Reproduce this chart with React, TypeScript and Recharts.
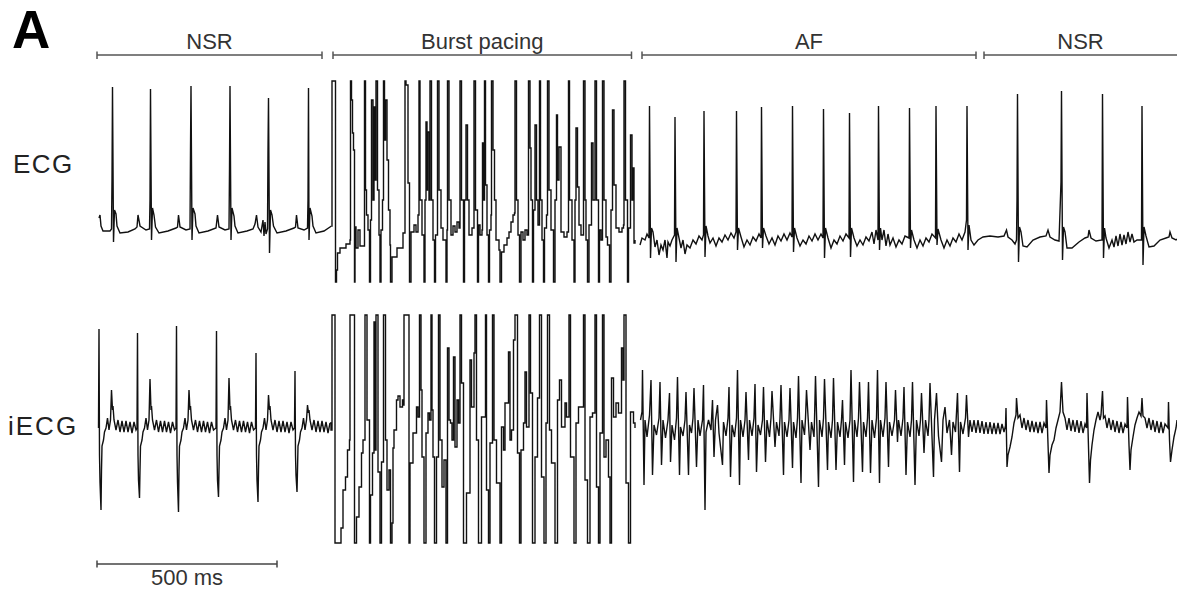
import { LineChart, Line, XAxis, YAxis, ReferenceLine } from 'recharts'

// time is in samples at 720 Hz, the window is 3 s long
const FS = 720
const WINDOW = 2160

type Pt = [number, number] // [sample, mV]

// surface ECG
const ecgNsr1: Pt[] = [
  [4,0.10],[6,0.13],[8,0.02],[12,-0.03],[26,-0.03],[29,-0.01],[30,0.48],[31,1.41],[33,-0.14],[35,0.18],[38,0.14],[40,0.02],[46,-0.05],[62,-0.04],[76,-0.01],[80,0.01],[82,0.13],[86,0.02],[98,-0.02],
  [105,-0.01],[106,0.28],[107,1.39],[109,-0.12],[111,0.20],[114,0.13],[117,0.01],[124,-0.05],[142,-0.03],[158,0.00],[161,0.01],[163,0.13],[166,0.01],[178,-0.02],
  [186,-0.01],[187,0.78],[188,1.42],[190,-0.12],[192,0.20],[196,0.14],[198,0.02],[204,-0.05],[222,-0.03],[238,0.00],[241,0.13],[244,0.01],[256,-0.02],
  [264,-0.01],[265,0.58],[266,1.42],[268,-0.12],[270,0.20],[274,0.12],[276,0.02],[282,-0.05],[300,-0.03],[312,-0.01],[316,0.04],[319,0.13],[322,0.01],[328,-0.04],[332,0.08],[334,-0.08],[336,0.06],[338,-0.06],
  [341,-0.01],[342,0.78],[343,1.30],[345,-0.25],[347,0.18],[350,0.13],[353,0.02],[360,-0.05],[378,-0.03],[394,0.00],[397,0.01],[399,0.13],[402,0.00],[414,-0.02],
  [421,0.00],[422,0.28],[423,1.40],[424,-0.12],[426,0.20],[430,0.12],[432,0.02],[438,-0.05],[454,-0.03],[469,0.02],
]

const ecgBurst: Pt[] = [
  [470,1.47],[475,1.47],[477,-0.54],[479,-0.42],[481,-0.25],[486,-0.20],[498,-0.16],[506,-0.12],[507,1.47],[509,1.28],[511,0.95],[513,0.78],[515,-0.54],[516,0.01],[518,-0.20],[522,-0.02],[526,-0.18],[533,-0.18],
  [535,1.47],[537,0.38],[539,0.13],[542,-0.02],[545,-0.54],[547,0.08],[549,1.28],[552,0.28],[554,1.21],[556,0.48],[558,1.47],[561,0.38],[564,-0.07],[566,-0.54],[568,-0.02],[571,0.28],
  [573,1.47],[575,0.88],[577,1.28],[580,0.68],[583,0.18],[586,-0.17],[587,-0.54],[590,-0.29],[600,-0.20],[612,-0.05],[616,1.47],[618,1.43],[622,0.45],[625,-0.54],[628,-0.04],[634,0.03],[638,-0.04],[642,0.13],
  [644,1.47],[646,0.28],[650,-0.07],[654,-0.54],[656,0.28],[658,1.06],[660,0.38],[661,0.96],[664,0.28],[666,1.47],[669,0.28],[672,-0.12],[675,-0.54],[677,-0.07],[681,1.47],[684,0.38],[688,0.00],[692,-0.12],[698,-0.54],
  [700,-0.02],[701,1.47],[704,0.28],[708,-0.07],[712,0.02],[716,-0.04],[720,0.06],[724,0.00],[726,1.47],[729,0.28],[733,-0.54],[735,0.28],[738,1.03],[741,0.28],[744,-0.07],[750,0.00],[754,1.47],[757,0.18],[761,-0.54],
  [763,0.03],[766,-0.07],[770,-0.02],[771,0.85],[773,0.28],[775,1.47],[777,0.43],[780,-0.07],[783,-0.54],[785,-0.02],[788,0.13],[789,1.47],[792,0.78],[795,0.28],[798,-0.12],[804,-0.22],[806,-0.54],
  [809,-0.24],[814,-0.17],[820,-0.10],[824,-0.04],[828,0.06],[832,0.13],[835,0.15],[836,1.47],[839,0.28],[842,-0.07],[845,-0.54],[848,-0.04],[852,-0.12],[856,-0.02],[860,-0.07],
  [863,1.47],[866,0.80],[868,0.28],[871,-0.54],[873,0.18],[876,1.03],[879,0.28],[882,0.03],[885,1.47],[887,0.28],[890,-0.12],[893,-0.54],[895,0.00],[899,0.13],[901,1.47],[904,0.38],[908,-0.02],[913,-0.54],
  [916,0.28],[919,1.13],[921,0.48],[924,0.81],[928,-0.04],[934,-0.09],[940,-0.04],[943,1.47],[945,0.28],[950,-0.12],[954,-0.54],[956,0.28],[958,1.00],[961,0.41],[964,0.03],[968,-0.07],
  [973,1.47],[976,0.28],[978,-0.12],[981,-0.54],[984,0.03],[989,0.85],[992,0.28],[996,1.47],[999,0.28],[1003,-0.54],[1005,-0.02],[1008,-0.12],[1011,1.47],[1014,0.28],[1018,-0.09],[1021,-0.17],[1025,-0.54],
  [1028,0.18],[1031,1.18],[1034,0.43],[1038,0.00],[1044,-0.04],[1050,0.00],[1053,0.03],[1054,1.47],[1057,0.28],[1061,-0.54],[1063,0.00],[1067,0.93],[1070,0.28],[1072,0.60],[1074,-0.15],[1076,-0.12],
]

const ecgAf: Pt[] = [
  [1086,-0.17],[1090,-0.10],[1096,-0.12],[1100,-0.06],[1104,-0.10],[1105,1.22],[1107,-0.30],[1109,0.00],[1112,-0.04],[1116,-0.19],[1120,-0.12],[1124,-0.27],[1128,-0.17],[1132,-0.22],[1136,-0.12],[1140,-0.30],[1142,-0.14],[1146,-0.18],[1150,-0.12],
  [1155,-0.07],[1156,1.11],[1158,-0.34],[1160,0.00],[1164,-0.10],[1168,-0.20],[1172,-0.12],[1176,-0.26],[1180,-0.17],[1186,-0.20],[1192,-0.12],[1198,-0.16],[1204,-0.08],[1210,-0.12],
  [1213,-0.07],[1214,1.17],[1216,-0.29],[1218,0.02],[1222,-0.08],[1226,-0.15],[1232,-0.10],[1238,-0.18],[1244,-0.10],[1250,-0.14],[1256,-0.07],[1262,-0.12],[1268,-0.05],[1274,-0.10],
  [1278,-0.04],[1279,1.17],[1281,-0.22],[1283,0.00],[1288,-0.09],[1294,-0.19],[1300,-0.12],[1306,-0.17],[1312,-0.09],[1318,-0.13],[1324,-0.06],
  [1328,-0.10],[1329,1.21],[1331,-0.20],[1333,0.00],[1338,-0.08],[1344,-0.16],[1350,-0.10],[1356,-0.17],[1362,-0.08],[1368,-0.13],[1374,-0.06],[1380,-0.12],[1386,-0.05],
  [1390,-0.09],[1391,1.22],[1393,-0.24],[1395,0.00],[1400,-0.10],[1406,-0.18],[1412,-0.12],[1418,-0.16],[1424,-0.08],[1430,-0.13],[1436,-0.06],[1442,-0.12],[1448,-0.06],
  [1452,-0.10],[1453,1.19],[1455,-0.30],[1457,0.00],[1462,-0.10],[1468,-0.20],[1474,-0.12],[1480,-0.16],[1486,-0.08],[1492,-0.13],[1498,-0.06],
  [1504,-0.10],[1505,1.15],[1507,-0.29],[1509,0.00],[1514,-0.10],[1520,-0.18],[1526,-0.12],[1532,-0.17],[1538,-0.09],[1544,-0.13],[1550,-0.04],[1554,-0.16],[1558,-0.02],
  [1562,-0.12],[1563,1.22],[1565,-0.22],[1567,0.00],[1570,-0.12],[1574,-0.02],[1578,-0.18],[1582,-0.06],[1586,-0.17],[1592,-0.10],[1598,-0.19],[1604,-0.12],[1610,-0.16],[1616,-0.08],
  [1624,-0.10],[1625,1.20],[1627,-0.20],[1629,-0.02],[1634,-0.12],[1640,-0.20],[1646,-0.12],[1652,-0.18],[1658,-0.10],[1664,-0.14],[1670,-0.06],
  [1677,-0.10],[1678,1.22],[1680,-0.17],[1682,-0.01],[1688,-0.12],[1694,-0.20],[1700,-0.12],[1706,-0.18],[1712,-0.10],[1718,-0.14],[1724,-0.06],[1730,-0.12],[1736,-0.04],
  [1739,0.08],[1740,1.22],[1742,-0.22],[1744,0.03],[1748,-0.12],[1754,-0.17],[1762,-0.12],
]

const ecgNsr2: Pt[] = [
  [1772,-0.09],[1786,-0.08],[1802,-0.09],[1814,-0.08],[1819,-0.02],[1822,-0.09],[1830,-0.12],[1836,-0.16],[1839,-0.12],[1840,0.28],[1841,1.34],[1843,-0.34],[1845,0.01],[1848,-0.04],[1852,-0.18],[1860,-0.19],[1872,-0.12],
  [1886,-0.09],[1898,-0.08],[1902,-0.02],[1906,-0.09],[1916,-0.12],[1924,-0.13],[1928,0.46],[1929,1.37],[1931,-0.32],[1933,0.01],[1936,-0.04],[1940,-0.20],[1950,-0.20],[1964,-0.14],
  [1976,-0.10],[1982,-0.09],[1984,-0.02],[1988,-0.10],[1998,-0.13],[2010,-0.12],[2011,1.34],[2013,-0.30],[2015,0.00],[2018,-0.10],[2024,-0.20],[2030,-0.12],[2034,-0.19],[2038,-0.08],[2042,-0.18],
  [2046,-0.06],[2050,-0.17],[2054,-0.07],[2058,-0.16],[2062,-0.04],[2066,-0.14],[2070,-0.06],[2074,-0.14],[2080,-0.12],[2089,-0.12],[2090,1.22],[2092,-0.37],[2094,0.01],[2098,-0.08],
  [2104,-0.19],[2114,-0.18],[2126,-0.12],[2138,-0.10],[2144,-0.09],[2146,-0.04],[2150,-0.10],[2158,-0.12],[2160,-0.11],
]

// intracardiac ECG
const iecgNsr1: Pt[] = [
  [3,-0.03],[4,0.96],[5,-0.30],[6,-0.57],[8,-0.85],[9,-0.45],[10,-0.21],[13,-0.15],[15,-0.07],[18,-0.03],[21,0.07],[24,-0.05],[27,0.05],[29,0.35],[31,0.15],[32,0.19],[34,0.05],[38,-0.05],[42,0.05],[46,-0.07],[50,0.04],[54,-0.07],[58,0.04],[62,-0.07],[66,0.03],[70,-0.08],[74,0.03],[78,-0.05],[80,-0.03],
  [81,0.92],[82,-0.30],[83,-0.55],[85,-0.73],[86,-0.45],[87,-0.21],[90,-0.15],[92,-0.07],[95,-0.03],[98,0.07],[101,-0.05],[104,0.05],[106,0.46],[108,0.15],[109,0.19],[111,0.05],[115,-0.05],[119,0.05],[123,-0.07],[127,0.04],[131,-0.07],[135,0.04],[139,-0.07],[143,0.03],[147,-0.08],[151,0.03],[155,-0.05],[158,-0.03],
  [159,0.99],[160,-0.30],[161,-0.57],[163,-0.87],[164,-0.45],[165,-0.21],[168,-0.15],[170,-0.07],[173,-0.03],[176,0.07],[179,-0.05],[182,0.05],[184,0.35],[186,0.15],[187,0.19],[189,0.05],[193,-0.05],[197,0.05],[201,-0.07],[205,0.04],[209,-0.07],[213,0.04],[217,-0.07],[221,0.03],[225,-0.08],[229,0.03],[233,-0.05],[238,-0.03],
  [239,0.94],[240,-0.30],[241,-0.55],[243,-0.72],[244,-0.45],[245,-0.21],[248,-0.15],[250,-0.07],[253,-0.03],[256,0.07],[259,-0.05],[262,0.05],[264,0.47],[266,0.15],[267,0.19],[269,0.05],[273,-0.05],[277,0.05],[281,-0.07],[285,0.04],[289,-0.07],[293,0.04],[297,-0.07],[301,0.03],[305,-0.08],[309,0.03],[313,-0.05],[317,-0.03],
  [318,0.72],[319,-0.30],[320,-0.55],[322,-0.77],[323,-0.45],[324,-0.21],[327,-0.15],[329,-0.07],[332,-0.03],[335,0.07],[338,-0.05],[341,0.05],[343,0.30],[345,0.15],[346,0.19],[348,0.05],[352,-0.05],[356,0.05],[360,-0.07],[364,0.04],[368,-0.07],[372,0.04],[376,-0.07],[380,0.03],[384,-0.08],[388,0.03],[392,-0.05],[395,-0.03],
  [396,0.54],[397,-0.30],[398,-0.50],[400,-0.67],[401,-0.45],[402,-0.21],[405,-0.15],[407,-0.07],[410,-0.03],[413,0.07],[416,-0.05],[419,0.05],[421,0.20],[423,0.12],[424,0.15],[426,0.05],[430,-0.05],[434,0.05],[438,-0.07],[442,0.04],[446,-0.07],[450,0.04],[454,-0.07],[458,0.03],[462,-0.08],[466,0.02],
]

const iecgBurst: Pt[] = [
  [468,-0.05],[470,1.10],[475,1.10],[476,-1.18],[478,-1.18],[487,-1.18],[488,-1.03],[492,-0.65],[497,-0.52],[501,-0.25],[505,-0.15],[506,1.10],[510,1.10],[515,-1.18],[519,-0.92],[524,-0.62],[529,-0.28],[532,-0.15],
  [536,1.10],[540,0.05],[545,-1.18],[547,-0.70],[551,-0.28],[554,1.03],[556,-0.25],[558,1.10],[562,-0.47],[566,-1.18],[569,-0.37],[573,1.10],[575,1.10],[577,-0.15],[580,-0.65],[584,-0.45],[587,-1.18],
  [590,-0.98],[592,-0.23],[594,-0.05],[599,0.25],[602,0.29],[606,0.18],[611,0.25],[613,0.20],[614,1.10],[620,1.10],[624,-1.18],[626,-0.38],[632,-0.08],[639,0.18],[642,0.08],[645,1.10],[648,0.35],[650,-0.32],[654,-1.18],
  [658,-0.08],[662,0.12],[665,0.05],[668,1.10],[670,0.15],[672,-0.32],[675,-1.18],[679,-0.32],[683,1.10],[686,-0.15],[690,-0.62],[694,-0.35],[698,-1.18],[701,0.77],[704,0.05],[707,0.02],[710,-0.15],[713,0.68],[716,-0.22],[720,0.25],[723,0.02],
  [726,1.10],[729,0.42],[733,-1.18],[739,-0.68],[746,0.65],[749,0.18],[754,0.72],[756,1.10],[759,-0.15],[763,-1.18],[769,0.08],[773,0.08],[777,1.10],[779,-0.65],[783,-1.18],[786,-0.18],[791,1.10],[794,-0.15],[799,-0.58],[806,-1.18],
  [809,-0.02],[813,-0.25],[816,0.22],[823,0.73],[826,-0.15],[829,-0.05],[833,0.85],[836,1.10],[841,-0.28],[845,-1.18],[848,-0.25],[853,0.02],[856,0.53],[859,-0.02],[864,1.10],[867,0.32],[871,-1.18],[876,-0.32],[881,0.27],
  [885,1.10],[889,-0.52],[894,-1.18],[898,0.02],[901,1.10],[905,-0.05],[909,-0.38],[916,-1.18],[921,0.25],[925,0.45],[929,-0.02],[936,0.22],[939,0.08],[944,1.10],[947,-0.32],[954,-1.18],[958,0.02],[963,0.18],
  [973,1.10],[976,-0.55],[981,-1.18],[986,0.08],[991,0.12],[996,1.10],[999,-0.62],[1003,-1.18],[1006,-0.08],[1011,1.10],[1014,-0.32],[1018,-0.15],[1023,-0.52],[1026,-1.18],[1029,0.47],[1033,0.08],[1038,0.22],[1043,0.12],
  [1049,0.77],[1052,0.45],[1054,1.10],[1058,-0.58],[1063,-1.18],[1067,0.13],[1073,0.02],[1076,-0.03],
]

const iecgAf: Pt[] = [
  [1087,0.05],[1090,0.13],[1091,0.55],[1094,-0.60],[1096,0.05],[1100,-0.12],[1105,0.10],[1108,0.45],[1111,-0.50],[1114,0.00],[1119,-0.10],[1124,0.07],[1126,0.43],[1129,-0.40],[1132,0.05],[1137,-0.13],[1142,0.05],[1145,0.32],[1147,-0.37],
  [1150,0.00],[1155,-0.15],[1159,0.07],[1161,0.48],[1165,-0.50],[1167,-0.02],[1172,-0.11],[1176,0.05],[1178,0.33],[1183,-0.50],[1185,0.00],[1189,-0.08],[1192,0.07],[1194,0.37],[1199,-0.42],[1202,0.05],[1206,-0.11],
  [1211,0.05],[1213,0.40],[1216,-0.85],[1218,-0.07],[1223,0.05],[1228,-0.05],[1231,0.25],[1234,-0.32],[1237,0.05],[1241,0.20],[1244,-0.08],[1251,-0.40],[1253,0.03],[1258,-0.11],[1262,0.07],[1264,0.38],[1267,-0.52],
  [1270,0.00],[1275,-0.12],[1279,0.07],[1281,0.55],[1285,-0.60],[1287,0.05],[1292,-0.12],[1296,0.05],[1298,0.33],[1303,-0.35],[1305,0.05],[1310,-0.11],[1314,0.07],[1316,0.41],[1319,-0.47],[1322,0.00],[1327,-0.10],
  [1331,0.05],[1333,0.38],[1337,-0.37],[1340,0.05],[1345,-0.12],[1348,0.07],[1350,0.34],[1356,-0.22],[1359,0.03],[1364,-0.11],[1366,0.07],[1368,0.40],[1373,-0.50],[1375,0.03],[1380,-0.12],[1384,0.05],[1386,0.37],[1391,-0.43],
  [1393,0.03],[1398,-0.13],[1401,0.07],[1403,0.49],[1408,-0.58],[1410,0.05],[1415,-0.10],[1417,0.07],[1419,0.35],[1426,-0.25],[1429,0.03],[1434,-0.12],[1435,0.05],[1437,0.49],[1443,-0.62],[1445,0.05],[1450,-0.12],
  [1453,0.07],[1455,0.46],[1461,-0.45],[1463,0.03],[1468,-0.13],[1471,0.05],[1473,0.47],[1478,-0.45],[1481,0.03],[1486,-0.12],[1489,0.05],[1491,0.25],[1495,-0.40],[1497,0.03],[1502,-0.13],[1506,0.05],[1508,0.55],[1513,-0.57],
  [1515,0.05],[1520,-0.12],[1523,0.07],[1525,0.43],[1531,-0.47],[1533,0.03],[1538,-0.12],[1541,0.07],[1543,0.43],[1547,-0.48],[1550,0.05],[1555,-0.13],[1559,0.07],[1561,0.55],[1565,-0.58],[1567,0.05],[1572,-0.12],
  [1576,0.07],[1578,0.43],[1583,-0.42],[1585,0.03],[1590,-0.11],[1595,0.05],[1597,0.35],[1601,-0.17],[1603,0.05],[1608,-0.11],[1612,0.07],[1614,0.38],[1618,-0.50],[1621,0.03],[1626,-0.12],[1629,0.05],[1631,0.43],[1636,-0.60],
  [1639,0.05],[1644,-0.11],[1647,0.05],[1649,0.32],[1654,-0.28],[1657,0.05],[1662,-0.11],[1664,0.05],[1666,0.42],[1673,-0.52],[1675,0.05],[1679,0.32],[1683,-0.11],[1689,-0.37],[1692,0.05],[1696,0.18],[1700,-0.08],
  [1705,0.05],[1709,-0.30],[1712,0.03],[1717,-0.07],[1721,0.32],[1725,-0.47],[1727,0.03],[1732,-0.09],[1737,0.07],[1739,0.30],[1743,-0.12],[1746,0.05],[1750,-0.07],[1754,0.05],[1758,-0.08],[1762,0.05],[1766,-0.08],[1770,0.04],
]

const iecgNsr2: Pt[] = [
  [1774,-0.09],[1778,0.03],[1782,-0.09],[1786,0.03],[1790,-0.09],[1794,0.02],[1798,-0.09],[1802,0.02],[1806,-0.09],[1810,0.01],[1814,-0.07],[1817,-0.01],[1818,0.17],[1820,-0.42],[1822,-0.30],[1826,-0.22],[1830,-0.12],[1834,0.02],
  [1838,0.10],[1839,0.27],[1842,0.07],[1846,0.10],[1850,-0.03],[1854,0.07],[1858,-0.05],[1862,0.05],[1866,-0.07],[1870,0.04],[1874,-0.07],[1878,0.03],[1882,-0.08],[1886,0.03],[1890,-0.08],[1894,0.02],[1898,-0.03],
  [1899,0.25],[1904,-0.48],[1906,-0.30],[1910,-0.20],[1914,-0.15],[1918,-0.03],[1922,0.05],[1926,0.13],[1929,0.43],[1932,0.13],[1936,0.07],[1940,-0.05],[1944,0.07],[1948,-0.06],[1952,0.05],[1956,-0.07],[1960,0.05],
  [1964,-0.08],[1968,0.04],[1972,-0.08],[1976,0.01],[1979,-0.03],[1980,0.32],[1985,-0.58],[1987,-0.35],[1990,-0.20],[1994,-0.05],[1998,0.05],[2002,0.13],[2006,0.05],[2008,0.10],[2011,0.34],[2013,0.07],[2016,0.09],
  [2020,-0.03],[2024,0.07],[2028,-0.05],[2032,0.05],[2036,-0.07],[2040,0.04],[2044,-0.08],[2048,0.03],[2052,-0.08],[2056,0.01],[2060,-0.03],[2061,0.28],[2064,-0.20],[2066,-0.45],[2068,-0.25],[2072,-0.12],[2076,0.00],
  [2080,0.07],[2084,0.13],[2088,0.09],[2090,0.27],[2092,0.09],[2096,0.07],[2100,-0.03],[2104,0.07],[2108,-0.05],[2112,0.05],[2116,-0.07],[2120,0.04],[2124,-0.08],[2128,0.03],[2132,-0.08],[2136,0.01],[2142,-0.03],
  [2143,0.23],[2145,-0.15],[2147,-0.37],[2150,-0.25],[2154,-0.12],[2158,-0.03],[2160,0.05],
]

// rhythm segments (sample ranges) shown above the traces
const segments = [
  { label: 'NSR', from: 0, to: 450, closed: true },
  { label: 'Burst pacing', from: 472, to: 1069, closed: true },
  { label: 'AF', from: 1090, to: 1758, closed: true },
  { label: 'NSR', from: 1774, to: WINDOW, closed: false },
]
const SCALE_MS = 500

const FONT = '"Liberation Sans", Arial, Helvetica, sans-serif'
const INK = '#111'

const rows = (pts: Pt[]) => pts.map(([t, v]) => ({ t, v }))
const ecgRest = rows(ecgNsr1)
// burst starts from the last NSR sample so the trace stays joined
const ecgPace = rows([ecgNsr1[ecgNsr1.length - 1], ...ecgBurst])
const ecgPost = rows([...ecgAf, ...ecgNsr2])
const iecgRest = rows(iecgNsr1)
const iecgPace = rows([iecgNsr1[iecgNsr1.length - 1], ...iecgBurst])
const iecgPost = rows([...iecgAf, ...iecgNsr2])

function SegLabel(props: any) {
  const { viewBox, text, below } = props
  if (!viewBox) return null
  const x = viewBox.x + viewBox.width / 2
  const y = below ? viewBox.y + viewBox.height + 21 : viewBox.y - 6
  return (
    <text x={x} y={y} textAnchor="middle" fontSize={22} fill="#333" fontFamily={FONT}>
      {text}
    </text>
  )
}

export default function App() {
  const barY = 1.73
  const tick: [number, number] = [1.69, 1.765]
  const scaleY = -1.39
  const scaleLen = (SCALE_MS * FS) / 1000
  const lineProps = {
    dataKey: 'v',
    stroke: INK,
    strokeWidth: 1.4,
    dot: false,
    activeDot: false,
    isAnimationActive: false,
  }

  return (
    <div style={{ position: 'absolute', left: 0, top: 0, width: 1179, height: 590, background: '#fff' }}>
      <LineChart width={1179} height={590} margin={{ top: 0, right: 2, bottom: 0, left: 97 }}>
        <XAxis type="number" dataKey="t" domain={[0, WINDOW]} allowDataOverflow hide />
        <YAxis yAxisId="ecg" type="number" domain={[-3.62, 2.28]} allowDataOverflow hide />
        <YAxis yAxisId="iecg" type="number" domain={[-1.65, 4.25]} allowDataOverflow hide />

        <Line yAxisId="ecg" data={ecgRest} type="linear" {...lineProps} />
        <Line yAxisId="ecg" data={ecgPace} type="stepAfter" {...lineProps} />
        <Line yAxisId="ecg" data={ecgPost} type="linear" {...lineProps} />
        <Line yAxisId="iecg" data={iecgRest} type="linear" {...lineProps} />
        <Line yAxisId="iecg" data={iecgPace} type="stepAfter" {...lineProps} />
        <Line yAxisId="iecg" data={iecgPost} type="linear" {...lineProps} />

        {segments.map((s) => (
          <ReferenceLine
            key={`bar-${s.from}`}
            yAxisId="ecg"
            segment={[{ x: s.from, y: barY }, { x: s.to, y: barY }]}
            stroke="#555"
            strokeWidth={1.3}
            label={<SegLabel text={s.label} />}
          />
        ))}
        {segments.map((s) => (
          <ReferenceLine
            key={`l-${s.from}`}
            yAxisId="ecg"
            segment={[{ x: s.from, y: tick[0] }, { x: s.from, y: tick[1] }]}
            stroke="#555"
            strokeWidth={1.5}
          />
        ))}
        {segments.filter((s) => s.closed).map((s) => (
          <ReferenceLine
            key={`r-${s.from}`}
            yAxisId="ecg"
            segment={[{ x: s.to, y: tick[0] }, { x: s.to, y: tick[1] }]}
            stroke="#555"
            strokeWidth={1.5}
          />
        ))}

        <ReferenceLine
          yAxisId="iecg"
          segment={[{ x: 0, y: scaleY }, { x: scaleLen, y: scaleY }]}
          stroke="#444"
          strokeWidth={1.3}
          label={<SegLabel text={`${SCALE_MS} ms`} below />}
        />
        <ReferenceLine
          yAxisId="iecg"
          segment={[{ x: 0, y: scaleY + 0.035 }, { x: 0, y: scaleY - 0.035 }]}
          stroke="#444"
          strokeWidth={1.5}
        />
        <ReferenceLine
          yAxisId="iecg"
          segment={[{ x: scaleLen, y: scaleY + 0.035 }, { x: scaleLen, y: scaleY - 0.035 }]}
          stroke="#444"
          strokeWidth={1.5}
        />
      </LineChart>

      <svg width={1179} height={590} style={{ position: 'absolute', left: 0, top: 0, pointerEvents: 'none' }}>
        <text x={12} y={48} fontSize={53} fontWeight="bold" fill="#000" fontFamily={FONT}>A</text>
        <text x={13} y={173} fontSize={26} letterSpacing={1.5} fill="#222" fontFamily={FONT}>ECG</text>
        <text x={8} y={435} fontSize={26} letterSpacing={2} fill="#222" fontFamily={FONT}>iECG</text>
      </svg>
    </div>
  )
}
